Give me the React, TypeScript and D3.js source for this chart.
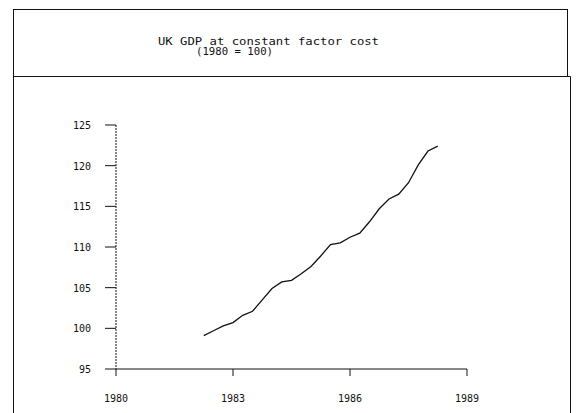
import React from "react";
import * as d3 from "d3";

const titleLines = ["UK GDP at constant factor cost", "(1980 = 100)"];
const yTicks = [95, 100, 105, 110, 115, 120, 125];
const xTicks = [1980, 1983, 1986, 1989];
const quarters = [
  1982.25, 1982.5, 1982.75, 1983.0, 1983.25, 1983.5, 1983.75, 1984.0, 1984.25,
  1984.5, 1984.75, 1985.0, 1985.25, 1985.5, 1985.75, 1986.0, 1986.25, 1986.5,
  1986.75, 1987.0, 1987.25, 1987.5, 1987.75, 1988.0, 1988.25,
];
const gdp = [
  99.1, 99.7, 100.3, 100.7, 101.6, 102.1, 103.5, 104.9, 105.7,
  105.9, 106.7, 107.6, 108.9, 110.3, 110.5, 111.2, 111.7, 113.1,
  114.7, 115.9, 116.5, 117.9, 120.1, 121.8, 122.4,
];

export default function App() {
  const W = 576, H = 413;
  const x = d3.scaleLinear().domain([1980, 1989]).range([116, 467]);
  const y = d3.scaleLinear().domain([95, 125]).range([369, 125]);
  const pts: [number, number][] = quarters.map((q, i) => [q, gdp[i]]);
  const line = d3.line<[number, number]>().x(d => x(d[0])).y(d => y(d[1]));
  const font = "'DejaVu Sans Mono', monospace";
  const ink = "#111";
  return (
    <svg width={W} height={H} style={{ position: "fixed", left: 0, top: 0, background: "#fff" }}>
      {/* title box */}
      <rect x={13.5} y={9.5} width={554} height={67} fill="none" stroke={ink} strokeWidth={1} />
      {/* lower frame */}
      <path d={`M13.5,76.5 V${H + 2} M570.5,76.5 V${H + 2} M13.5,76.5 H570.5`} fill="none" stroke={ink} strokeWidth={1} />
      <text x={158} y={45} fontFamily={font} fontSize={10} fill={ink} textLength={221} lengthAdjust="spacingAndGlyphs">{titleLines[0]}</text>
      <text x={196} y={55} fontFamily={font} fontSize={10} fill={ink} textLength={77} lengthAdjust="spacingAndGlyphs">{titleLines[1]}</text>
      {/* axes */}
      <line x1={x(1980)} x2={x(1980)} y1={y(125)} y2={y(95)} stroke={ink} strokeWidth={1} strokeDasharray="2,1" />
      <line x1={x(1980)} x2={x(1989)} y1={y(95)} y2={y(95)} stroke={ink} strokeWidth={1} />
      {yTicks.map(t => (
        <g key={t}>
          <line x1={x(1980) - 11} x2={x(1980)} y1={y(t)} y2={y(t)} stroke={ink} strokeWidth={1} />
          <text x={91} y={y(t) + 4} textAnchor="end" fontFamily={font} fontSize={10} fill={ink}>{t}</text>
        </g>
      ))}
      {xTicks.map(t => (
        <g key={t}>
          <line x1={x(t)} x2={x(t)} y1={y(95)} y2={y(95) + 7} stroke={ink} strokeWidth={1} />
          <text x={x(t)} y={402} textAnchor="middle" fontFamily={font} fontSize={10} fill={ink}>{t}</text>
        </g>
      ))}
      <path d={line(pts) || ""} fill="none" stroke={ink} strokeWidth={1.3} />
    </svg>
  );
}
